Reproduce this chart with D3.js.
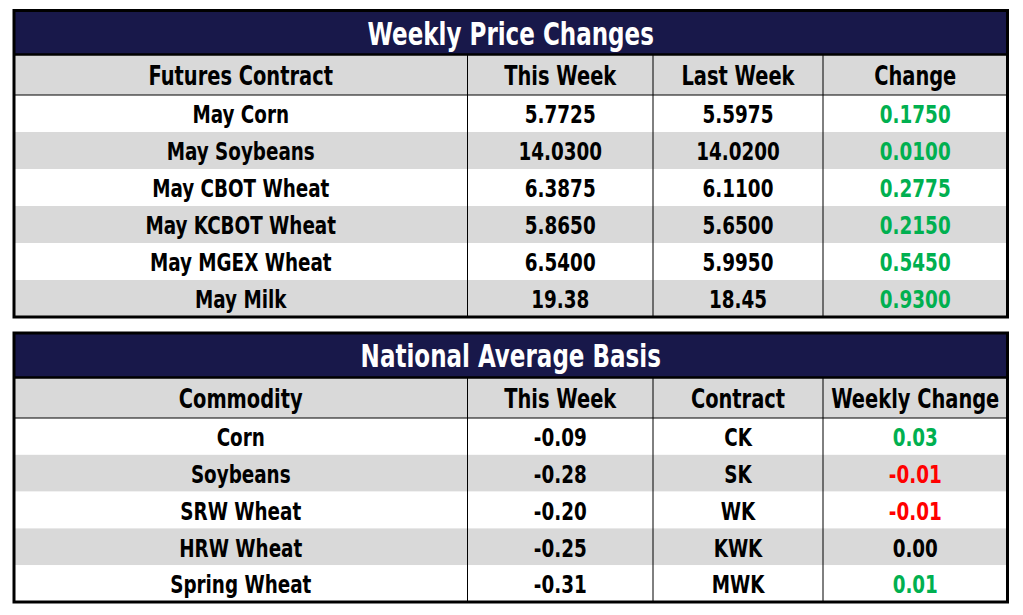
<!DOCTYPE html>
<html>
<head>
<meta charset="utf-8">
<script src="https://cdn.jsdelivr.net/npm/d3@7"></script>
<style>
  body { margin: 0; background: #fff; }
  svg text { font-family: "DejaVu Sans", sans-serif; font-stretch: condensed; font-weight: bold; }
</style>
</head>
<body>
<svg id="chart" width="1023" height="615"></svg>
<script>
// weekly price changes
const futuresHeaders = ['Futures Contract', 'This Week', 'Last Week', 'Change'];
const futuresContracts = ['May Corn', 'May Soybeans', 'May CBOT Wheat', 'May KCBOT Wheat', 'May MGEX Wheat', 'May Milk'];
const futuresThisWeek = ['5.7725', '14.0300', '6.3875', '5.8650', '6.5400', '19.38'];
const futuresLastWeek = ['5.5975', '14.0200', '6.1100', '5.6500', '5.9950', '18.45'];
const futuresChange = [0.175, 0.01, 0.2775, 0.215, 0.545, 0.93];

// national average basis
const basisHeaders = ['Commodity', 'This Week', 'Contract', 'Weekly Change'];
const basisCommodities = ['Corn', 'Soybeans', 'SRW Wheat', 'HRW Wheat', 'Spring Wheat'];
const basisThisWeek = [-0.09, -0.28, -0.20, -0.25, -0.31];
const basisContracts = ['CK', 'SK', 'WK', 'KWK', 'MWK'];
const basisChange = [0.03, -0.01, -0.01, 0.00, 0.01];

const NAVY = '#18184a';
const GRAY = '#d9d9d9';
const GREEN = '#00b050';
const RED = '#ff0000';
const SQUEEZE = 0.8; // reference font is narrower than anything installed

const svg = d3.select('#chart');
const colEdges = [14, 467.5, 653, 823, 1007.5];

function changeColor(v) {
  if (v > 0) return GREEN;
  if (v < 0) return RED;
  return '#000';
}

function label(g, cx, cy, size, color, text) {
  g.append('text')
    .attr('transform', `translate(${cx},${cy}) scale(${SQUEEZE},1)`)
    .attr('text-anchor', 'middle').attr('dominant-baseline', 'central')
    .attr('font-size', size)
    .attr('fill', color)
    .text(text);
}

function drawTable(opts) {
  const { top, title, headers, rows, titleH, headH, rowH } = opts;
  const g = svg.append('g');
  const left = colEdges[0], right = colEdges[4];
  const width = right - left;
  const headTop = top + titleH;
  const bodyTop = headTop + headH;

  const y = d3.scaleBand()
    .domain(d3.range(rows.length))
    .range([bodyTop, bodyTop + rowH * rows.length]);
  const bottom = y.range()[1];

  // title band
  g.append('rect')
    .attr('x', left).attr('y', top)
    .attr('width', width).attr('height', titleH)
    .attr('fill', NAVY);
  label(g, (left + right) / 2, top + titleH / 2 + 1, 32, '#fff', title);

  // header band
  g.append('rect')
    .attr('x', left).attr('y', headTop)
    .attr('width', width).attr('height', headH)
    .attr('fill', GRAY);
  headers.forEach((h, ci) => {
    label(g, (colEdges[ci] + colEdges[ci + 1]) / 2, headTop + headH / 2 + 1, 27, '#000', h);
  });

  // body rows alternate white/gray
  g.selectAll('.bg')
    .data(d3.range(rows.length))
    .join('rect')
    .attr('class', 'bg')
    .attr('x', left).attr('y', (i) => y(i))
    .attr('width', width).attr('height', y.bandwidth())
    .attr('fill', (i) => (i % 2 === 1 ? GRAY : '#fff'));

  rows.forEach((row, ri) => {
    row.forEach((d, ci) => {
      label(g, (colEdges[ci] + colEdges[ci + 1]) / 2, y(ri) + y.bandwidth() / 2 + 1,
        25.5, d.color, d.text);
    });
  });

  // grid lines
  g.selectAll('.vline')
    .data(colEdges.slice(1, 4))
    .join('line')
    .attr('x1', (d) => d).attr('x2', (d) => d)
    .attr('y1', headTop).attr('y2', bottom)
    .attr('stroke', '#000').attr('stroke-width', 1);
  g.append('line')
    .attr('x1', left).attr('x2', right)
    .attr('y1', bodyTop).attr('y2', bodyTop)
    .attr('stroke', '#000').attr('stroke-width', 1);
  g.append('line')
    .attr('x1', left).attr('x2', right)
    .attr('y1', headTop).attr('y2', headTop)
    .attr('stroke', '#000').attr('stroke-width', 2.5);
  g.append('rect')
    .attr('x', left).attr('y', top)
    .attr('width', width).attr('height', bottom - top)
    .attr('fill', 'none').attr('stroke', '#000').attr('stroke-width', 3);
}

drawTable({
  top: 10.5,
  title: 'Weekly Price Changes',
  headers: futuresHeaders,
  titleH: 44,
  headH: 40.5,
  rowH: 37,
  rows: futuresContracts.map((c, i) => [
    { text: c, color: '#000' },
    { text: futuresThisWeek[i], color: '#000' },
    { text: futuresLastWeek[i], color: '#000' },
    { text: d3.format('.4f')(futuresChange[i]), color: changeColor(futuresChange[i]) },
  ]),
});

drawTable({
  top: 333,
  title: 'National Average Basis',
  headers: basisHeaders,
  titleH: 44.5,
  headH: 40.5,
  rowH: 36.8,
  rows: basisCommodities.map((c, i) => [
    { text: c, color: '#000' },
    { text: d3.format('.2f')(basisThisWeek[i]).replace('−', '-'), color: '#000' },
    { text: basisContracts[i], color: '#000' },
    { text: d3.format('.2f')(basisChange[i]).replace('−', '-'), color: changeColor(basisChange[i]) },
  ]),
});
</script>
</body>
</html>
